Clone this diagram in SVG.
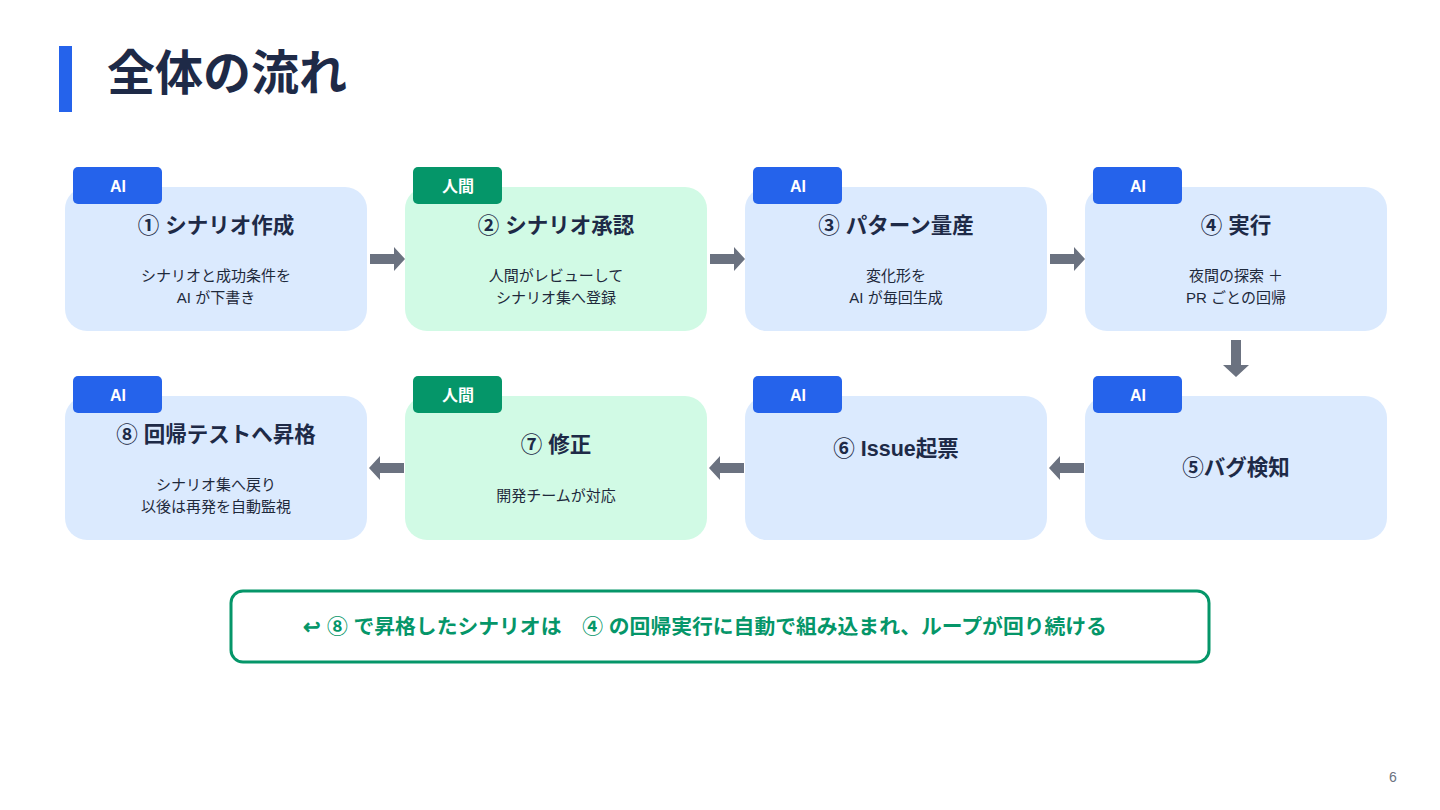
<svg xmlns="http://www.w3.org/2000/svg" width="1440" height="810" viewBox="0 0 1440 810">
<style>
text{font-family:"Liberation Sans","Noto Sans CJK JP",sans-serif}
.cb{fill:#dbeafe}
.cg{fill:#d1fae5}
.bb{fill:#2563eb}
.bg{fill:#059669}
.bt{fill:#fff;font-size:16px;font-weight:bold;text-anchor:middle}
.t{fill:#1e2a47;font-size:21.5px;font-weight:bold;text-anchor:middle}
.s{fill:#1e293b;font-size:15px;text-anchor:middle}
.ar{fill:#6b7280}
</style>
<rect width="1440" height="810" fill="#fff"/>
<rect x="59" y="46" width="13" height="66" fill="#2563eb"/>
<text x="107" y="90" font-size="48" font-weight="bold" fill="#1e2a47">全体の流れ</text>

<g id="n1">
<rect class="cb" x="65" y="187" width="302" height="144" rx="22"/>
<rect class="bb" x="73" y="167" width="89" height="37" rx="5"/>
<text class="bt" x="118" y="192">AI</text>
<text class="t" x="216" y="233">① シナリオ作成</text>
<text class="s" x="216" y="281">シナリオと成功条件を</text>
<text class="s" x="216" y="303">AI が下書き</text>
</g>
<g id="n2">
<rect class="cg" x="405" y="187" width="302" height="144" rx="22"/>
<rect class="bg" x="413" y="167" width="89" height="37" rx="5"/>
<text class="bt" x="458" y="192">人間</text>
<text class="t" x="556" y="233">② シナリオ承認</text>
<text class="s" x="556" y="281">人間がレビューして</text>
<text class="s" x="556" y="303">シナリオ集へ登録</text>
</g>
<g id="n3">
<rect class="cb" x="745" y="187" width="302" height="144" rx="22"/>
<rect class="bb" x="753" y="167" width="89" height="37" rx="5"/>
<text class="bt" x="798" y="192">AI</text>
<text class="t" x="896" y="233">③ パターン量産</text>
<text class="s" x="896" y="281">変化形を</text>
<text class="s" x="896" y="303">AI が毎回生成</text>
</g>
<g id="n4">
<rect class="cb" x="1085" y="187" width="302" height="144" rx="22"/>
<rect class="bb" x="1093" y="167" width="89" height="37" rx="5"/>
<text class="bt" x="1138" y="192">AI</text>
<text class="t" x="1236" y="233">④ 実行</text>
<text class="s" x="1236" y="281">夜間の探索 ＋</text>
<text class="s" x="1236" y="303">PR ごとの回帰</text>
</g>
<g id="n5">
<rect class="cb" x="1085" y="396" width="302" height="144" rx="22"/>
<rect class="bb" x="1093" y="376" width="89" height="37" rx="5"/>
<text class="bt" x="1138" y="401">AI</text>
<text class="t" x="1236" y="475">⑤バグ検知</text>
</g>
<g id="n6">
<rect class="cb" x="745" y="396" width="302" height="144" rx="22"/>
<rect class="bb" x="753" y="376" width="89" height="37" rx="5"/>
<text class="bt" x="798" y="401">AI</text>
<text class="t" x="896" y="456">⑥ Issue起票</text>
</g>
<g id="n7">
<rect class="cg" x="405" y="396" width="302" height="144" rx="22"/>
<rect class="bg" x="413" y="376" width="89" height="37" rx="5"/>
<text class="bt" x="458" y="401">人間</text>
<text class="t" x="556" y="452">⑦ 修正</text>
<text class="s" x="556" y="501">開発チームが対応</text>
</g>
<g id="n8">
<rect class="cb" x="65" y="396" width="302" height="144" rx="22"/>
<rect class="bb" x="73" y="376" width="89" height="37" rx="5"/>
<text class="bt" x="118" y="401">AI</text>
<text class="t" x="216" y="442">⑧ 回帰テストへ昇格</text>
<text class="s" x="216" y="490">シナリオ集へ戻り</text>
<text class="s" x="216" y="512">以後は再発を自動監視</text>
</g>

<g id="connectors">
<polygon class="ar" points="370,254 394,254 394,247 405,259 394,271 394,264 370,264"/>
<polygon class="ar" points="710,254 734,254 734,247 745,259 734,271 734,264 710,264"/>
<polygon class="ar" points="1050,254 1074,254 1074,247 1085,259 1074,271 1074,264 1050,264"/>
<polygon class="ar" points="1231,340 1241,340 1241,365 1249,365 1236,377 1223,365 1231,365"/>
<polygon class="ar" points="1084,463 1060,463 1060,456 1049,468 1060,480 1060,473 1084,473"/>
<polygon class="ar" points="744,463 720,463 720,456 709,468 720,480 720,473 744,473"/>
<polygon class="ar" points="404,463 380,463 380,456 369,468 380,480 380,473 404,473"/>
</g>

<g id="note">
<rect x="231" y="591" width="978" height="71" rx="12" fill="#fff" stroke="#059669" stroke-width="3"/>
<text x="705" y="634" font-size="20.8" font-weight="bold" fill="#059669" text-anchor="middle" xml:space="preserve">↩ ⑧ で昇格したシナリオは　④ の回帰実行に自動で組み込まれ、ループが回り続ける</text>
</g>
<text x="1393" y="782" font-size="14" fill="#6b7280" text-anchor="middle">6</text>
</svg>
